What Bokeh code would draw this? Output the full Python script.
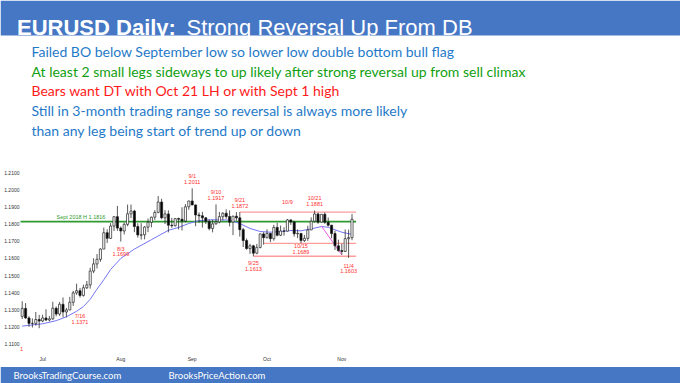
import pandas as pd
from bokeh.plotting import figure
from bokeh.models import (ColumnDataSource, Range1d, LinearAxis, FixedTicker,
                          PrintfTickFormatter)
from bokeh.core.properties import value
from bokeh.embed import file_html
from bokeh.resources import INLINE

# ---------------- data ----------------
dates = [d.strftime("%Y-%m-%d") for d in pd.bdate_range("2020-06-23", "2020-11-05")]

opens = [1.1260, 1.1307, 1.1251, 1.1219, 1.1219, 1.1242,
         1.1233, 1.1251, 1.1239, 1.1246, 1.1308, 1.1274, 1.1331, 1.1286, 1.1298, 1.1343,
         1.1398, 1.1411, 1.1383, 1.1428, 1.1445, 1.1526, 1.1568, 1.1595, 1.1655, 1.1751,
         1.1718, 1.1790, 1.1845,
         1.1778, 1.1761, 1.1800, 1.1862, 1.1878, 1.1787, 1.1736, 1.1739, 1.1784, 1.1812,
         1.1842, 1.1870, 1.1931, 1.1838, 1.1861, 1.1795, 1.1792, 1.1834, 1.1830, 1.1819,
         1.1903,
         1.1937, 1.1914, 1.1855, 1.1850, 1.1838, 1.1817, 1.1776, 1.1803, 1.1814, 1.1845,
         1.1865, 1.1846, 1.1813, 1.1848, 1.1838, 1.1769, 1.1705, 1.1658, 1.1674, 1.1631,
         1.1665, 1.1744,
         1.1722, 1.1747, 1.1716, 1.1782, 1.1736, 1.1761, 1.1760, 1.1826, 1.1814, 1.1745,
         1.1747, 1.1705, 1.1718, 1.1767, 1.1818, 1.1861, 1.1813, 1.1859, 1.1812, 1.1795,
         1.1746, 1.1674,
         1.1646, 1.1641, 1.1716, 1.1722]
highs = [1.1349, 1.1338, 1.1261, 1.1248, 1.1286, 1.1269,
         1.1270, 1.1302, 1.1263, 1.1346, 1.1318, 1.1345, 1.1371, 1.1310, 1.1375, 1.1410,
         1.1452, 1.1427, 1.1446, 1.1468, 1.1546, 1.1601, 1.1626, 1.1660, 1.1781, 1.1771,
         1.1807, 1.1845, 1.1908,
         1.1788, 1.1810, 1.1916, 1.1916, 1.1885, 1.1806, 1.1807, 1.1790, 1.1834, 1.1845,
         1.1883, 1.1966, 1.1950, 1.1883, 1.1882, 1.1838, 1.1836, 1.1839, 1.1900, 1.1919,
         1.1939,
         1.2011, 1.1915, 1.1870, 1.1873, 1.1842, 1.1830, 1.1827, 1.1917, 1.1873, 1.1871,
         1.1888, 1.1882, 1.1850, 1.1872, 1.1872, 1.1779, 1.1717, 1.1686, 1.1680, 1.1685,
         1.1745, 1.1754,
         1.1771, 1.1749, 1.1797, 1.1809, 1.1793, 1.1783, 1.1831, 1.1829, 1.1821, 1.1770,
         1.1749, 1.1738, 1.1792, 1.1841, 1.1881, 1.1869, 1.1860, 1.1870, 1.1840, 1.1797,
         1.1762, 1.1710,
         1.1686, 1.1770, 1.1769, 1.1861]
lows = [1.1245, 1.1246, 1.1199, 1.1195, 1.1206, 1.1191,
        1.1226, 1.1233, 1.1231, 1.1240, 1.1261, 1.1263, 1.1255, 1.1254, 1.1296, 1.1322,
        1.1387, 1.1371, 1.1376, 1.1421, 1.1423, 1.1514, 1.1541, 1.1580, 1.1655, 1.1691,
        1.1714, 1.1761, 1.1762,
        1.1699, 1.1741, 1.1789, 1.1836, 1.1754, 1.1722, 1.1711, 1.1712, 1.1754, 1.1782,
        1.1826, 1.1865, 1.1830, 1.1802, 1.1753, 1.1780, 1.1787, 1.1770, 1.1764, 1.1812,
        1.1885,
        1.1912, 1.1789, 1.1808, 1.1781, 1.1802, 1.1765, 1.1753, 1.1798, 1.1806, 1.1823,
        1.1832, 1.1788, 1.1737, 1.1821, 1.1728, 1.1667, 1.1651, 1.1627, 1.1613, 1.1625,
        1.1659, 1.1681,
        1.1717, 1.1696, 1.1704, 1.1730, 1.1731, 1.1734, 1.1758, 1.1797, 1.1728, 1.1719,
        1.1689, 1.1697, 1.1703, 1.1767, 1.1810, 1.1803, 1.1810, 1.1803, 1.1788, 1.1718,
        1.1650, 1.1640,
        1.1622, 1.1640, 1.1603, 1.1707]
closes = [1.1307, 1.1251, 1.1219, 1.1219, 1.1242, 1.1233,
          1.1251, 1.1239, 1.1246, 1.1308, 1.1274, 1.1331, 1.1286, 1.1298, 1.1343, 1.1398,
          1.1411, 1.1383, 1.1428, 1.1445, 1.1526, 1.1568, 1.1595, 1.1655, 1.1751, 1.1718,
          1.1790, 1.1845, 1.1778,
          1.1761, 1.1800, 1.1862, 1.1878, 1.1787, 1.1738, 1.1739, 1.1784, 1.1812, 1.1842,
          1.1870, 1.1931, 1.1838, 1.1861, 1.1795, 1.1792, 1.1834, 1.1830, 1.1819, 1.1903,
          1.1937,
          1.1914, 1.1855, 1.1850, 1.1838, 1.1817, 1.1776, 1.1803, 1.1814, 1.1845, 1.1865,
          1.1846, 1.1813, 1.1848, 1.1838, 1.1769, 1.1705, 1.1658, 1.1674, 1.1631, 1.1665,
          1.1744, 1.1722,
          1.1747, 1.1716, 1.1782, 1.1736, 1.1761, 1.1760, 1.1826, 1.1814, 1.1745, 1.1747,
          1.1705, 1.1718, 1.1767, 1.1818, 1.1861, 1.1813, 1.1859, 1.1812, 1.1795, 1.1746,
          1.1674, 1.1646,
          1.1641, 1.1716, 1.1722, 1.1830]

# 20-bar EMA
ema_dates = ["2020-06-23", "2020-07-01", "2020-07-07", "2020-07-10", "2020-07-15",
             "2020-07-17", "2020-07-21", "2020-07-23", "2020-07-27", "2020-07-29",
             "2020-08-03", "2020-08-07", "2020-08-14", "2020-08-21", "2020-08-26",
             "2020-08-31", "2020-09-03", "2020-09-09", "2020-09-16", "2020-09-21",
             "2020-09-24", "2020-09-29", "2020-10-02", "2020-10-07", "2020-10-12",
             "2020-10-15", "2020-10-20", "2020-10-23", "2020-10-27", "2020-10-29",
             "2020-11-02", "2020-11-04", "2020-11-05"]
ema_values = [1.1203, 1.1217, 1.1235, 1.1258, 1.1290, 1.1318, 1.1360, 1.1420, 1.1475,
              1.1535, 1.1600, 1.1655, 1.1710, 1.1765, 1.1782, 1.1805, 1.1822, 1.1827,
              1.1825, 1.1805, 1.1776, 1.1758, 1.1754, 1.1758, 1.1764, 1.1762, 1.1774,
              1.1787, 1.1783, 1.1768, 1.1754, 1.1745, 1.1742]

month_tick_dates = ["2020-07-01", "2020-08-03", "2020-09-01", "2020-10-01", "2020-11-02"]
month_labels = ["Jul", "Aug", "Sep", "Oct", "Nov"]
price_ticks = [1.11, 1.12, 1.13, 1.14, 1.15, 1.16, 1.17, 1.18, 1.19, 1.20, 1.21]

sept2018_high = 1.1816
sept2018_text = "Sept 2018 H 1.1816"
range_levels = [1.1872, 1.1689, 1.1613]
range_start_dates = ["2020-09-21", "2020-09-30", "2020-09-25"]

trend_dates = ["2020-10-23", "2020-11-02"]
trend_values = [1.1790, 1.1621]

ann_dates = ["2020-07-16", "2020-08-03", "2020-09-01", "2020-09-10", "2020-09-21",
             "2020-09-25", "2020-10-09", "2020-10-15", "2020-10-21", "2020-11-04"]
ann_date_text = ["7/16", "8/3", "9/1", "9/10", "9/21", "9/25", "10/9", "10/15", "10/21", "11/4"]
ann_values = [1.1371, 1.1699, 1.2011, 1.1917, 1.1872, 1.1613, 1.1831, 1.1689, 1.1881, 1.1603]
ann_value_text = ["1.1371", "1.1699", "1.2011", "1.1917", "1.1872", "1.1613", "",
                  "1.1689", "1.1881", "1.1603"]
ann_side = ["low", "low", "high", "high", "high", "low", "high", "low", "high", "low"]

headline_bold = "EURUSD Daily:"
headline_rest = "Strong Reversal Up From DB"
notes = ["Failed BO below September low so lower low double bottom bull flag",
         "At least 2 small legs sideways to up likely after strong reversal up from sell climax",
         "Bears want DT with Oct 21 LH or with Sept 1 high",
         "Still in 3-month trading range so reversal is always more likely",
         "than any leg being start of trend up or down"]
note_colors = ["#1F7AC9", "#12A012", "#FF1A1A", "#1F7AC9", "#1F7AC9"]
footer_texts = ["BrooksTradingCourse.com", "BrooksPriceAction.com"]
corner_text = "1"

# ---------------- layout constants ----------------
W, H = 680, 383
BAR_PX = 3.4          # pixels per trading day
FIRST_BAR_PX = 21.7   # pixel x of first bar
PRICE_PX = 1705.0     # pixels per 1.0 price
REF_PRICE, REF_PX = 1.21, 172.7

BLUE = "#4677C4"
GREEN = "#2F9A2F"
RED_TXT = "#FF3030"

idx_of = {d: i for i, d in enumerate(dates)}

x_range = Range1d(-FIRST_BAR_PX / BAR_PX, (W - FIRST_BAR_PX) / BAR_PX)
y_range = Range1d(REF_PRICE - (H - REF_PX) / PRICE_PX, REF_PRICE + REF_PX / PRICE_PX)

p = figure(width=W, height=H, output_backend="svg", toolbar_location=None,
           x_range=x_range, y_range=y_range, x_axis_type=None, y_axis_type=None,
           min_border=0, outline_line_color=None, background_fill_color="white",
           border_fill_color="white")
p.styles = {"position": "absolute", "left": "0px", "top": "0px"}
p.extra_x_ranges = {"px": Range1d(0, W)}
p.extra_y_ranges = {"px": Range1d(H, 0)}

# ---------------- bands & header text ----------------
p.quad(left=[0], right=[W], top=[0], bottom=[35], x_range_name="px", y_range_name="px",
       fill_color=BLUE, line_color=None)
p.quad(left=[0], right=[W], top=[366.5], bottom=[H], x_range_name="px", y_range_name="px",
       fill_color=BLUE, line_color=None)

p.text(x=[16.5], y=[26.8], text=[headline_bold], x_range_name="px", y_range_name="px",
       text_font=value("Liberation Sans"), text_font_style="bold", text_font_size="22px",
       text_color="white", text_baseline="alphabetic", text_align="left")
p.text(x=[186], y=[26.8], text=[headline_rest], x_range_name="px", y_range_name="px",
       text_font=value("Liberation Sans"), text_font_size="22px",
       text_color="white", text_baseline="alphabetic", text_align="left")

note_src = ColumnDataSource(dict(x=[31.0] * len(notes),
                                 y=[51 + 19.65 * i for i in range(len(notes))],
                                 text=notes, color=note_colors))
p.text(x="x", y="y", text="text", text_color="color", source=note_src,
       x_range_name="px", y_range_name="px", text_font=value("Lato"),
       text_font_size="14px", text_baseline="middle", text_align="left")

p.text(x=[13, 168], y=[375, 375], text=footer_texts, x_range_name="px", y_range_name="px",
       text_font=value("Lato"), text_font_size="9.5px", text_color="white",
       text_baseline="middle", text_align="left")

# ---------------- chart ----------------
xi = list(range(len(dates)))
cs = ColumnDataSource(dict(
    x=xi, open=opens, high=highs, low=lows, close=closes,
    top=[max(o, c) for o, c in zip(opens, closes)],
    bottom=[min(o, c) for o, c in zip(opens, closes)],
    fill=["white" if c >= o else "black" for o, c in zip(opens, closes)]))

last = len(dates) - 1
# Sept 2018 high line
p.segment(x0=[-0.5], x1=[last + 1.2], y0=[sept2018_high], y1=[sept2018_high],
          line_color=GREEN, line_width=1.6)
p.text(x=[56], y=[216.8], text=[sept2018_text], x_range_name="px", y_range_name="px",
       text_font=value("Liberation Sans"), text_font_size="5.5px", text_color=GREEN,
       text_align="left", text_baseline="middle")

# range lines
p.segment(x0=[idx_of[d] for d in range_start_dates], x1=[last + 1.2] * len(range_levels),
          y0=range_levels, y1=range_levels, line_color="#FF9C9C", line_width=1.3)

# EMA
p.line(x=[idx_of[d] for d in ema_dates], y=ema_values, line_color="#7474F4", line_width=1)

# trend line
p.line(x=[idx_of[d] for d in trend_dates], y=trend_values, line_color="#E85AE8", line_width=1)

# candles
p.segment(x0="x", y0="low", x1="x", y1="high", source=cs, line_color="#222222",
          line_width=0.75)
p.vbar(x="x", width=0.62, top="top", bottom="bottom", source=cs, fill_color="fill",
       line_color="#222222", line_width=0.7)

# swing annotations
extra = {"7/16": 12.0, "10/15": -4.0, "10/9": -5.0, "11/4": 1.0}
d_off, v_off = [], []
for dt, side in zip(ann_date_text, ann_side):
    e = extra.get(dt, 0.0)
    if side == "high":
        d_off.append(-12.5 + e)
        v_off.append(-6.5 + e)
    else:
        d_off.append(7.0 + e)
        v_off.append(12.5 + e)
ann_src = ColumnDataSource(dict(x=[idx_of[d] for d in ann_dates], y=ann_values,
                                dtext=ann_date_text, vtext=ann_value_text,
                                doff=d_off, voff=v_off))
p.text(x="x", y="y", text="dtext", y_offset="doff", source=ann_src,
       text_font=value("Liberation Sans"), text_font_size="5.5px", text_color=RED_TXT,
       text_align="center", text_baseline="middle")
p.text(x="x", y="y", text="vtext", y_offset="voff", source=ann_src,
       text_font=value("Liberation Sans"), text_font_size="5.5px", text_color=RED_TXT,
       text_align="center", text_baseline="middle")

p.text(x=[21], y=[348], text=[corner_text], x_range_name="px", y_range_name="px",
       text_font=value("Liberation Sans"), text_font_size="5.5px", text_color=RED_TXT,
       text_align="center", text_baseline="middle")

# ---------------- axes (drawn at fixed positions) ----------------
yaxis = LinearAxis(fixed_location=-0.5, ticker=FixedTicker(ticks=price_ticks),
                   formatter=PrintfTickFormatter(format="%.4f"),
                   axis_line_color=None, major_tick_line_color=None,
                   minor_tick_line_color=None, major_tick_in=0, major_tick_out=0,
                   major_label_standoff=1, major_label_text_font_size="5px",
                   major_label_text_font="Liberation Sans",
                   major_label_text_color="#333333")
p.add_layout(yaxis, "left")

xaxis = LinearAxis(fixed_location=REF_PRICE - (353 - REF_PX) / PRICE_PX,
                   ticker=FixedTicker(ticks=[idx_of[d] for d in month_tick_dates]),
                   major_label_overrides={idx_of[d]: lab for d, lab in
                                          zip(month_tick_dates, month_labels)},
                   axis_line_color=None, major_tick_line_color=None,
                   minor_tick_line_color=None, major_tick_in=0, major_tick_out=0,
                   major_label_standoff=2, major_label_text_font_size="5px",
                   major_label_text_font="Liberation Sans",
                   major_label_text_color="#333333")
p.add_layout(xaxis, "below")

open("out.html", "w").write(file_html(p, INLINE))
